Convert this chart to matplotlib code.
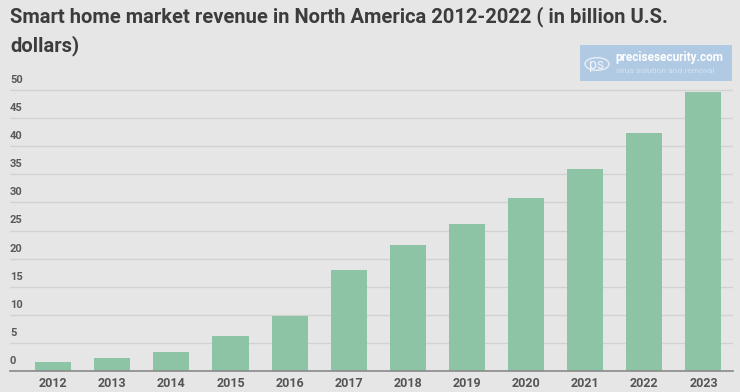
import matplotlib.pyplot as plt
from matplotlib.patches import Rectangle, Circle

years = ["2012", "2013", "2014", "2015", "2016", "2017",
         "2018", "2019", "2020", "2021", "2022", "2023"]
revenue = [1.6, 2.3, 3.4, 6.2, 9.8, 18.0, 22.4, 26.2, 30.8, 35.9, 42.3, 49.6]
y_ticks = [0, 5, 10, 15, 20, 25, 30, 35, 40, 45, 50]

title_lines = ["Smart home market revenue in North America 2012-2022 ( in billion U.S.",
               "dollars)"]

bg = "#e6e6e6"
bar_color = "#8dc4a5"
font = ["Roboto", "DejaVu Sans"]

fig = plt.figure(figsize=(7.4, 3.92), dpi=100, facecolor=bg)
ax = fig.add_axes([10 / 740, 21 / 392, 723 / 740, 283.8 / 392])
ax.set_facecolor(bg)

x = list(range(len(years)))
ax.bar(x, revenue, width=0.61, color=bar_color, zorder=3)

ax.set_xlim(-0.73, 11.5)
ax.set_ylim(0, 50.5)

for s in ["top", "right", "left"]:
    ax.spines[s].set_visible(False)
ax.spines["bottom"].set_color("#8a8a8a")
ax.spines["bottom"].set_linewidth(1.2)
ax.spines["bottom"].set_zorder(4)

ax.set_yticks(y_ticks)
ax.set_yticklabels([])
ax.tick_params(axis="y", length=0)
ax.grid(axis="y", color="#d2d2d2", linewidth=1, zorder=0)

for t in y_ticks:
    ax.text(0.0, t + 0.9, str(t), transform=ax.get_yaxis_transform(),
            ha="left", va="bottom", fontsize=8, fontweight="bold",
            color="#5a5a5a", family=font)

ax.set_xticks(x)
ax.set_xticklabels(years, fontsize=9, fontweight="bold", color="#555555",
                   family=font)
ax.tick_params(axis="x", length=0, pad=4)

for i, line in enumerate(title_lines):
    fig.text(10 / 740, 1 - (17 + 29 * i) / 392, line, ha="left", va="center",
             fontsize=14.5, fontweight="bold", color="#3c3c3c", family=font)

# watermark
fig.patches.append(Rectangle((580 / 740, 1 - 81 / 392), 152 / 740, 36 / 392,
                             transform=fig.transFigure, facecolor="#a8c6e4",
                             edgecolor="none", alpha=0.85, zorder=5))
fig.patches.append(Circle((597 / 740, 1 - 64 / 392), 12 / 740,
                          transform=fig.transFigure, facecolor="none",
                          edgecolor="#e8eef6", linewidth=1, zorder=6))
fig.text(597 / 740, 1 - 65 / 392, "ps", ha="center", va="center",
         fontsize=10, color="#f0f4fa", family=font, zorder=7)
fig.text(615 / 740, 1 - 58 / 392, "precisesecurity.com", ha="left",
         va="center", fontsize=8.5, fontweight="bold", color="#ffffff",
         family=font, zorder=7)
fig.text(616 / 740, 1 - 71 / 392, "virus solution and removal", ha="left",
         va="center", fontsize=6, color="#d4e2f2", family=font, zorder=7)

fig.savefig("out.png", dpi=100, facecolor=bg)
